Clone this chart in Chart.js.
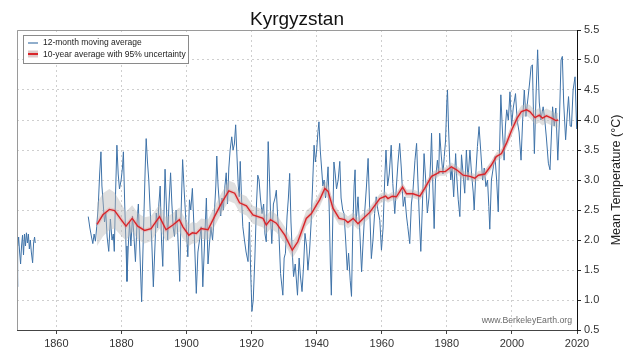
<!DOCTYPE html>
<html>
<head>
<meta charset="utf-8">
<script src="https://cdn.jsdelivr.net/npm/chart.js@4.4.1/dist/chart.umd.min.js"></script>
<style>
  html, body { margin: 0; padding: 0; background: #fff; }
</style>
</head>
<body>
<canvas id="chart" width="632" height="364"></canvas>
<script>
// 12-month moving average (null = no data)
const monthlyYears = [
  1847.9, 1848.0, 1848.2, 1848.4, 1848.7, 1849.0, 1849.3, 1849.6, 1849.9, 1850.2, 1850.5, 1850.8,
  1851.1, 1851.4, 1851.7, 1852.0, 1852.3, 1852.7, 1853.0, 1853.3, 1853.5, 1860.0,
  1869.8, 1870.3, 1870.8, 1871.2, 1871.6, 1872.0, 1872.4, 1872.9, 1873.3, 1873.7, 1874.0, 1874.4,
  1874.8, 1875.2, 1875.6, 1876.1, 1876.6, 1877.1, 1877.5, 1877.8, 1878.2, 1878.6, 1879.0, 1879.4,
  1879.9, 1880.3, 1880.6, 1881.0, 1881.4, 1881.7, 1882.1, 1882.5, 1882.9, 1883.4, 1883.8, 1884.3,
  1884.8, 1885.2, 1885.6, 1886.2, 1886.6, 1887.0, 1887.3, 1887.6, 1888.0, 1888.4, 1888.9, 1889.3,
  1889.8, 1890.3, 1890.7, 1891.1, 1891.5, 1891.9, 1892.3, 1892.7, 1893.1, 1893.4, 1893.8, 1894.2,
  1894.6, 1895.1, 1895.5, 1895.9, 1896.3, 1896.8, 1897.3, 1897.9, 1898.3, 1898.8, 1899.3, 1899.9,
  1900.4, 1900.9, 1901.3, 1901.8, 1902.3, 1902.7, 1903.0, 1903.5, 1904.0, 1904.5, 1905.0, 1905.5,
  1906.1, 1906.6, 1907.0, 1907.5, 1908.0, 1908.5, 1909.0, 1909.3, 1909.7, 1910.1, 1910.5, 1910.9,
  1911.3, 1911.8, 1912.2, 1912.6, 1913.0, 1913.4, 1913.9, 1914.3, 1914.7, 1915.1, 1915.5, 1915.9,
  1916.2, 1916.5, 1916.9, 1917.3, 1917.8, 1918.3, 1918.9, 1919.3, 1919.7, 1920.1, 1920.5, 1921.0,
  1921.5, 1921.9, 1922.3, 1922.7, 1923.2, 1923.7, 1924.1, 1924.5, 1924.8, 1925.1, 1925.5, 1925.9,
  1926.2, 1926.7, 1927.2, 1927.6, 1928.0, 1928.4, 1928.9, 1929.6, 1930.0, 1930.4, 1930.9, 1931.3,
  1931.7, 1932.1, 1932.5, 1932.9, 1933.4, 1934.1, 1934.6, 1935.0, 1935.5, 1936.0, 1936.4, 1936.9,
  1937.3, 1937.8, 1938.3, 1938.8, 1939.2, 1939.6, 1940.0, 1940.4, 1940.7, 1941.1, 1941.5, 1941.9,
  1942.3, 1942.7, 1943.1, 1943.5, 1943.9, 1944.2, 1944.5, 1944.9, 1945.3, 1945.7, 1946.1, 1946.6,
  1947.1, 1947.5, 1948.0, 1948.4, 1948.9, 1949.4, 1949.8, 1950.3, 1950.7, 1951.1, 1951.5, 1951.8,
  1952.1, 1952.4, 1952.7, 1953.2, 1953.8, 1954.3, 1954.8, 1955.3, 1955.8, 1956.3, 1956.8, 1957.3,
  1957.8, 1958.3, 1958.8, 1959.4, 1959.9, 1960.4, 1960.9, 1961.3, 1961.8, 1962.3, 1962.9, 1963.4,
  1964.0, 1964.5, 1965.0, 1965.5, 1966.0, 1966.6, 1967.1, 1967.6, 1968.0, 1968.6, 1969.1, 1969.6,
  1970.2, 1970.7, 1971.1, 1971.6, 1972.0, 1972.5, 1973.0, 1973.5, 1974.0, 1974.5, 1975.0, 1975.3,
  1975.7, 1976.1, 1976.5, 1977.1, 1977.5, 1977.8, 1978.3, 1978.8, 1979.2, 1979.6, 1980.0, 1980.2,
  1980.5, 1980.9, 1981.2, 1981.6, 1982.1, 1982.7, 1983.1, 1983.5, 1984.0, 1984.5, 1985.0, 1985.5,
  1986.0, 1986.5, 1987.1, 1987.6, 1988.1, 1988.4, 1988.9, 1989.4, 1989.9, 1990.4, 1991.0, 1991.5,
  1992.0, 1992.5, 1992.9, 1993.2, 1993.7, 1994.3, 1994.8, 1995.3, 1995.8, 1996.2, 1996.6, 1997.1,
  1997.6, 1998.0, 1998.4, 1998.9, 1999.4, 1999.9, 2000.4, 2001.1, 2001.6, 2002.2, 2002.8, 2003.3,
  2003.8, 2004.3, 2004.8, 2005.4, 2005.9, 2006.3, 2006.9, 2007.4, 2007.9, 2008.4, 2008.9, 2009.6,
  2010.1, 2010.6, 2011.2, 2011.7, 2012.1, 2012.5, 2013.0, 2013.5, 2014.1, 2014.6, 2015.1, 2015.5,
  2015.9, 2016.5, 2017.0, 2017.4, 2017.9, 2018.3, 2018.8, 2019.4, 2019.9
];
const monthlyTemps = [
  2.0, 1.22, 1.9, 2.05, 1.8, 1.6, 1.9, 2.08, 1.75, 2.1, 1.9, 2.12,
  1.95, 2.1, 1.85, 2.0, 1.8, 1.62, 1.95, 2.05, 1.95, null,
  2.39, 2.2, 2.05, 1.94, 2.1, 1.98, 2.22, 2.6, 3.1, 3.47, 2.9, 2.6,
  2.3, 2.45, 2.05, 1.81, 2.35, 2.0, 2.1, 1.81, 2.8, 3.58, 3.1, 2.85,
  3.0, 3.2, 3.47, 2.6, 1.9, 1.31, 1.9, 2.3, 1.9, 2.4, 2.1, 1.64,
  2.3, 2.6, 1.9, 0.97, 1.8, 2.6, 3.2, 3.69, 3.3, 3.0, 2.4, 2.0,
  1.22, 1.9, 2.45, 2.2, 2.6, 2.9, 2.0, 1.56, 2.5, 3.18, 2.6, 2.0,
  2.6, 3.12, 2.6, 2.2, 2.06, 2.5, 2.1, 1.31, 2.4, 3.34, 2.8, 2.22,
  1.72, 2.67, 2.5, 2.86, 2.2, 1.6, 1.11, 1.8, 2.0, 2.22, 1.22, 1.9,
  2.7, 1.6, 1.9, 2.22, 2.0, 2.4, 2.9, 3.4, 2.9, 2.6, 2.4, 2.7,
  2.5, 2.9, 3.12, 2.6, 3.2, 3.5, 3.72, 3.5, 3.6, 3.92, 3.4, 2.9,
  2.72, 3.31, 2.7, 2.22, 2.0, 1.8, 1.64, 2.3, 1.5, 0.81, 1.0, 1.7,
  2.6, 3.08, 3.0, 2.7, 2.44, 2.6, 2.1, 1.97, 2.8, 3.64, 3.0, 2.3,
  1.94, 2.6, 2.7, 2.83, 2.4, 2.1, 1.44, 1.08, 1.7, 1.78, 2.4, 2.7,
  3.11, 2.3, 1.8, 1.39, 1.6, 1.08, 1.7, 1.4, 1.14, 1.6, 2.11, 1.9,
  1.5, 1.8, 2.3, 3.0, 3.58, 3.3, 3.5, 3.81, 3.97, 3.5, 3.2, 2.9,
  3.0, 2.7, 2.9, 3.22, 2.4, 1.6, 1.08, 2.2, 3.3, 3.1, 2.85, 3.0,
  3.31, 2.7, 2.5, 2.44, 2.0, 1.5, 1.78, 1.33, 1.06, 2.2, 2.9, 3.17,
  2.3, 2.5, 2.72, 2.2, 1.47, 2.0, 2.5, 2.9, 3.36, 2.5, 1.69, 2.0,
  2.44, 2.72, 2.5, 2.33, 1.83, 2.2, 3.0, 3.5, 2.9, 3.1, 3.58, 2.94,
  2.44, 2.9, 3.3, 3.61, 3.2, 2.56, 2.72, 2.4, 2.22, 1.94, 2.6, 2.83,
  3.33, 3.61, 3.0, 2.3, 1.81, 2.6, 3.44, 3.0, 2.45, 2.7, 3.3, 3.78,
  2.9, 2.19, 3.0, 3.33, 3.1, 3.78, 3.4, 3.1, 3.39, 3.65, 4.3, 4.5,
  3.9, 3.3, 3.0, 3.2, 2.72, 3.44, 3.0, 2.67, 2.39, 3.42, 3.1, 2.78,
  3.5, 3.0, 3.5, 3.1, 2.8, 2.5, 3.1, 3.56, 3.89, 3.5, 3.0, 3.2,
  2.89, 3.0, 2.56, 2.18, 3.0, 3.22, 3.39, 3.0, 2.47, 3.5, 4.42, 3.8,
  3.33, 3.9, 4.17, 4.0, 4.47, 3.9, 4.2, 4.44, 4.0, 3.8, 3.33, 4.0,
  4.5, 4.06, 4.3, 4.6, 4.89, 4.92, 3.44, 4.4, 5.17, 4.3, 4.0, 4.22,
  4.0, 3.7, 3.28, 3.17, 3.7, 4.22, 3.9, 4.2, 3.33, 4.0, 5.0, 5.06,
  4.3, 3.67, 4.1, 4.39, 3.9, 3.89, 4.5, 4.72, 3.85
];

// 10-year average and its 95% uncertainty (half width)
const decadeYears = [
  1872.5, 1874.3, 1876.3, 1877.9, 1879.9, 1881.4, 1883.3, 1885.0, 1887.1, 1889.1, 1891.7, 1893.7,
  1895.8, 1897.8, 1898.9, 1900.7, 1901.8, 1903.0, 1904.5, 1906.6, 1908.6, 1910.7, 1913.0, 1914.8,
  1916.3, 1918.4, 1920.4, 1923.5, 1924.5, 1925.8, 1927.6, 1930.2, 1932.5, 1934.2, 1936.8, 1938.4,
  1939.9, 1940.9, 1942.5, 1943.5, 1945.0, 1946.9, 1948.6, 1949.6, 1951.2, 1952.7, 1954.3, 1956.3,
  1959.4, 1961.2, 1961.9, 1963.2, 1964.5, 1966.4, 1967.6, 1969.6, 1971.7, 1973.2, 1975.3, 1976.8,
  1977.8, 1979.5, 1981.4, 1983.0, 1985.0, 1987.1, 1988.6, 1989.7, 1991.7, 1993.7, 1995.2, 1996.8,
  1998.3, 1999.9, 2001.6, 2002.9, 2004.5, 2005.5, 2007.1, 2008.4, 2009.4, 2010.6, 2012.2, 2013.5,
  2014.2
];
const decadeTemps = [
  2.26, 2.42, 2.51, 2.49, 2.34, 2.23, 2.36, 2.23, 2.16, 2.19, 2.39, 2.17,
  2.25, 2.34, 2.22, 2.08, 2.12, 2.11, 2.19, 2.17, 2.39, 2.61, 2.82, 2.78,
  2.62, 2.57, 2.42, 2.36, 2.25, 2.34, 2.28, 2.08, 1.83, 1.97, 2.36, 2.44,
  2.58, 2.67, 2.86, 2.81, 2.53, 2.36, 2.34, 2.29, 2.36, 2.27, 2.36, 2.46,
  2.69, 2.73, 2.69, 2.73, 2.72, 2.88, 2.77, 2.77, 2.73, 2.86, 3.06, 3.1,
  3.14, 3.14, 3.22, 3.17, 3.08, 3.06, 3.03, 3.08, 3.1, 3.25, 3.39, 3.44,
  3.61, 3.83, 4.03, 4.14, 4.17, 4.14, 4.04, 4.08, 4.03, 4.07, 4.03, 3.99,
  4.0
];
const decadeUncert = [
  0.36, 0.36, 0.34, 0.3, 0.27, 0.24, 0.22, 0.22, 0.22, 0.21, 0.2, 0.2,
  0.2, 0.2, 0.2, 0.18, 0.18, 0.17, 0.17, 0.17, 0.17, 0.17, 0.17, 0.17,
  0.16, 0.16, 0.15, 0.15, 0.15, 0.15, 0.15, 0.14, 0.14, 0.13, 0.13, 0.12,
  0.12, 0.12, 0.12, 0.12, 0.11, 0.11, 0.1, 0.1, 0.1, 0.1, 0.09, 0.09,
  0.08, 0.08, 0.07, 0.07, 0.07, 0.07, 0.07, 0.07, 0.07, 0.07, 0.07, 0.07,
  0.07, 0.07, 0.07, 0.07, 0.07, 0.07, 0.07, 0.07, 0.07, 0.07, 0.07, 0.08,
  0.08, 0.09, 0.1, 0.1, 0.1, 0.11, 0.12, 0.12, 0.12, 0.12, 0.12, 0.12,
  0.12
];

const xTicks = [1860, 1880, 1900, 1920, 1940, 1960, 1980, 2000, 2020];
const yTicks = [0.5, 1.0, 1.5, 2.0, 2.5, 3.0, 3.5, 4.0, 4.5, 5.0, 5.5];

const pts = (xs, ys) => xs.map((x, i) => ({ x: x, y: ys[i] }));
const FONT = "'Liberation Sans', Arial, sans-serif";

// title, frame, legend box, watermark and the right-hand axis title
const decor = {
  id: 'decor',
  afterDraw(chart) {
    const ctx = chart.ctx;
    const a = chart.chartArea;
    ctx.save();

    // title centred over the plot area
    ctx.fillStyle = '#111';
    ctx.font = '19px ' + FONT;
    ctx.textAlign = 'center';
    ctx.textBaseline = 'alphabetic';
    ctx.fillText('Kyrgyzstan', (a.left + a.right) / 2, 25);

    ctx.strokeStyle = '#9a9a9a';
    ctx.lineWidth = 1;
    ctx.beginPath();
    ctx.moveTo(a.left + 0.5, a.bottom);
    ctx.lineTo(a.left + 0.5, a.top + 0.5);
    ctx.lineTo(a.right, a.top + 0.5);
    ctx.stroke();

    // legend
    const lx = a.left + 6, ly = a.top + 5, lw = 165, lh = 28;
    ctx.fillStyle = '#fff';
    ctx.fillRect(lx, ly, lw, lh);
    ctx.strokeStyle = '#8a8a8a';
    ctx.strokeRect(lx + 0.5, ly + 0.5, lw, lh);
    ctx.strokeStyle = 'rgb(70,120,170)';
    ctx.lineWidth = 1.2;
    ctx.beginPath();
    ctx.moveTo(lx + 5, ly + 8);
    ctx.lineTo(lx + 15, ly + 8);
    ctx.stroke();
    ctx.fillStyle = 'rgba(220,195,195,0.9)';
    ctx.fillRect(lx + 5, ly + 15.5, 10, 7);
    ctx.strokeStyle = '#d9252a';
    ctx.lineWidth = 2;
    ctx.beginPath();
    ctx.moveTo(lx + 5, ly + 19);
    ctx.lineTo(lx + 15, ly + 19);
    ctx.stroke();
    ctx.fillStyle = '#222';
    ctx.font = '8.5px ' + FONT;
    ctx.textBaseline = 'middle';
    ctx.textAlign = 'left';
    ctx.fillText('12-month moving average', lx + 20, ly + 8);
    ctx.fillText('10-year average with 95% uncertainty', lx + 20, ly + 19.5);

    // watermark
    ctx.fillStyle = '#6a6a6a';
    ctx.font = '8.7px ' + FONT;
    ctx.textAlign = 'right';
    ctx.fillText('www.BerkeleyEarth.org', a.right - 5, a.bottom - 9);

    // y title, reading bottom to top
    ctx.translate(617, (a.top + a.bottom) / 2);
    ctx.rotate(-Math.PI / 2);
    ctx.textAlign = 'center';
    ctx.fillStyle = '#222';
    ctx.font = '12.5px ' + FONT;
    ctx.fillText('Mean Temperature (°C)', 0, 0);
    ctx.restore();
  }
};

new Chart(document.getElementById('chart'), {
  type: 'line',
  data: {
    datasets: [
      {
        label: '10-year average',
        data: pts(decadeYears, decadeTemps),
        borderColor: '#d9252a',
        borderWidth: 1.4,
        pointRadius: 0,
        fill: false,
        order: 0
      },
      {
        label: 'halo',
        data: pts(decadeYears, decadeTemps),
        borderColor: 'rgba(235,130,130,0.28)',
        borderWidth: 4,
        pointRadius: 0,
        fill: false,
        order: 1
      },
      {
        label: 'upper',
        data: pts(decadeYears, decadeTemps.map((v, i) => v + decadeUncert[i])),
        borderWidth: 0,
        pointRadius: 0,
        fill: false,
        order: 2
      },
      {
        label: 'lower',
        data: pts(decadeYears, decadeTemps.map((v, i) => v - decadeUncert[i])),
        borderWidth: 0,
        pointRadius: 0,
        fill: '-1',
        backgroundColor: 'rgba(185,185,185,0.45)',
        order: 2
      },
      {
        label: '12-month moving average',
        data: pts(monthlyYears, monthlyTemps),
        borderColor: 'rgb(62,114,168)',
        borderWidth: 1,
        pointRadius: 0,
        spanGaps: false,
        fill: false,
        order: 3
      }
    ]
  },
  options: {
    responsive: false,
    animation: false,
    layout: { padding: { left: 17, right: 0, top: 30, bottom: 0 } },
    plugins: {
      legend: { display: false },
      tooltip: { enabled: false },
      title: { display: false }
    },
    scales: {
      x: {
        type: 'linear',
        min: 1847.9,
        max: 2020,
        afterBuildTicks: s => { s.ticks = xTicks.map(v => ({ value: v })); },
        afterFit: s => { s.height = 34; },
        ticks: {
          callback: v => String(v),
          color: '#333',
          font: { family: FONT, size: 11 },
          padding: 3,
          maxRotation: 0
        },
        grid: { color: '#cfcfcf', tickColor: '#444', tickLength: 4, drawTicks: true },
        border: { color: '#444', width: 1, dash: [2, 3] }
      },
      y: {
        position: 'right',
        min: 0.5,
        max: 5.5,
        afterBuildTicks: s => { s.ticks = yTicks.map(v => ({ value: v })); },
        afterFit: s => { s.width = 55; },
        ticks: {
          callback: v => v.toFixed(1),
          color: '#333',
          font: { family: FONT, size: 11 },
          padding: 3
        },
        grid: { color: '#cfcfcf', tickColor: '#222', tickLength: 4, drawTicks: true },
        border: { color: '#111', width: 1, dash: [2, 3] }
      }
    }
  },
  plugins: [decor]
});
</script>
</body>
</html>
